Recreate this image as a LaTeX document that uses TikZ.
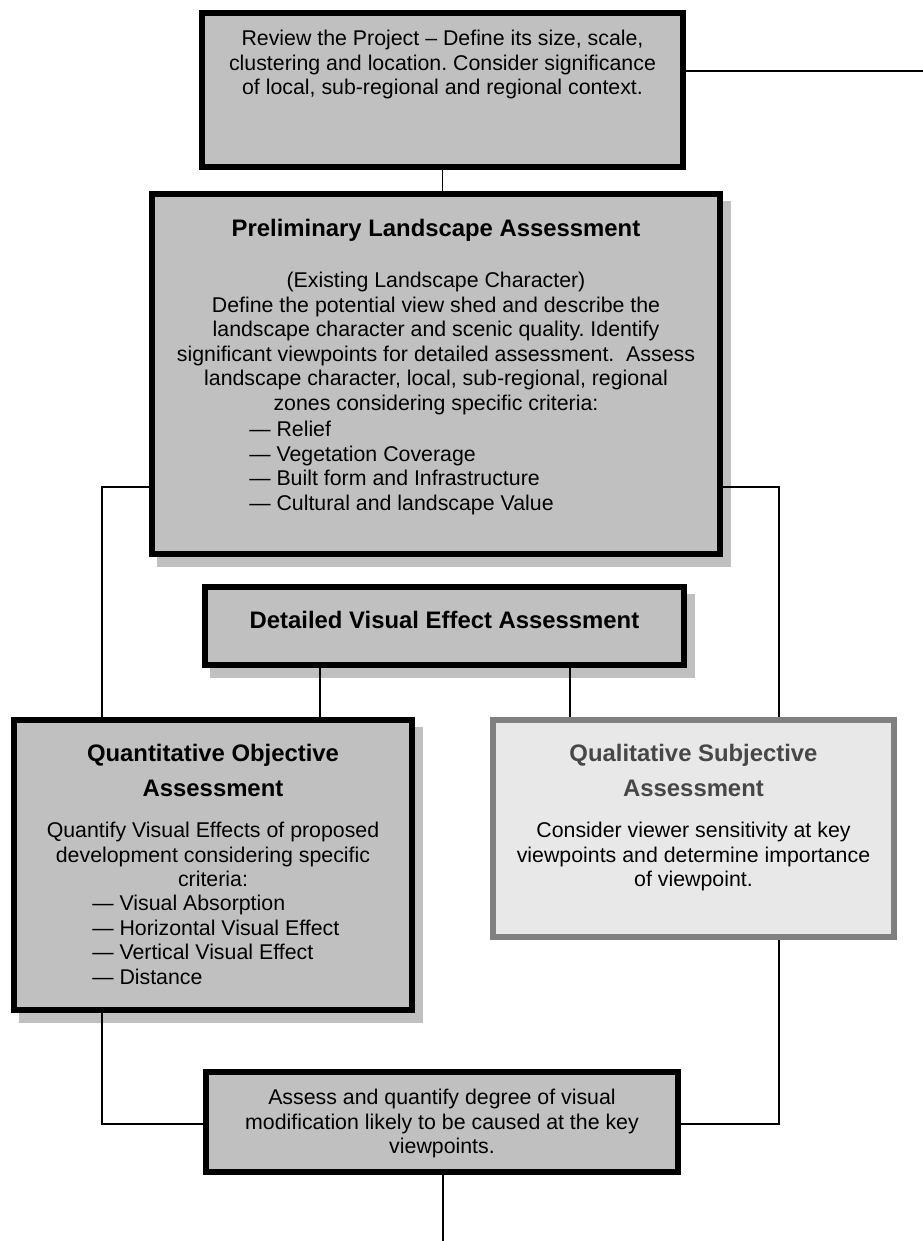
\documentclass[tikz,border=0pt]{standalone}
\usepackage{fontspec}
\setmainfont{Liberation Sans}
\usetikzlibrary{backgrounds}
\frenchspacing
\definecolor{silver}{HTML}{C0C0C0}
\definecolor{shade}{HTML}{C0C0C0}
\definecolor{lightbox}{HTML}{E8E8E8}
\definecolor{greyline}{HTML}{808080}
\definecolor{greytitle}{HTML}{474747}
\tikzset{
  box/.style={draw=black, line width=4.5pt, fill=silver, inner sep=0pt, rectangle},
  softbox/.style={draw=greyline, line width=4.5pt, fill=lightbox, inner sep=0pt, rectangle},
  conn/.style={draw=black, line width=1.2pt},
  bodytext/.style={inner sep=0pt, align=center, font=\frenchspacing\fontsize{16}{18.375}\selectfont},
  listtext/.style={inner sep=0pt, align=left, font=\frenchspacing\fontsize{16}{18.375}\selectfont},
  titletext/.style={inner sep=0pt, align=center, font=\fontsize{17.9}{26.25}\selectfont\bfseries},
  shadowfill/.style={fill=shade}
}
\begin{document}
\begin{tikzpicture}[x=0.75pt, y=-0.75pt]
\useasboundingbox (0,0) rectangle (923,1241);
% boxes
\node[box, minimum width=360.75pt, minimum height=115.5pt] (b1) at (442.5,90) {};
\node[box, minimum width=426pt, minimum height=270pt] (b2) at (436,374) {};
\node[box, minimum width=359.25pt, minimum height=58.5pt] (b3) at (444.5,626) {};
\node[box, minimum width=298.5pt, minimum height=217.5pt] (b4) at (213,865) {};
\node[softbox, minimum width=300.75pt, minimum height=162.75pt] (b5) at (693.5,828.5) {};
\node[box, minimum width=354pt, minimum height=75pt] (b6) at (442,1122) {};
% shadows
\begin{scope}[on background layer]
  \fill[shadowfill] ([shift={(8,10)}]b2.north west) rectangle ([shift={(8,10)}]b2.south east);
  \fill[shadowfill] ([shift={(8,10)}]b3.north west) rectangle ([shift={(8,10)}]b3.south east);
  \fill[shadowfill] ([shift={(8,10)}]b4.north west) rectangle ([shift={(8,10)}]b4.south east);
\end{scope}
% texts
\node[bodytext, anchor=north] (t1) at (442.5,30) {Review the Project – Define its size, scale,\\clustering and location. Consider significance\\of local, sub-regional and regional context.};
\node[titletext, anchor=base] (t2a) at (436,236.5) {Preliminary Landscape Assessment};
\node[bodytext, anchor=north] (t2b) at (436,272) {(Existing Landscape Character)\\Define the potential view shed and describe the\\landscape character and scenic quality. Identify\\significant viewpoints for detailed assessment.\ \ Assess\\landscape character, local, sub-regional, regional\\zones considering specific criteria:};
\node[listtext, anchor=north west] (t2c) at (249,421) {— Relief\\— Vegetation Coverage\\— Built form and Infrastructure\\— Cultural and landscape Value};
\node[titletext, anchor=base] (t3) at (444.5,628.5) {Detailed Visual Effect Assessment};
\node[titletext, anchor=north] (t4a) at (213,744) {Quantitative Objective\\Assessment};
\node[bodytext, anchor=north] (t4b) at (213,822) {Quantify Visual Effects of proposed\\development considering specific\\criteria:};
\node[listtext, anchor=north west] (t4c) at (92,895) {— Visual Absorption\\— Horizontal Visual Effect\\— Vertical Visual Effect\\— Distance};
\node[titletext, anchor=north, text=greytitle] (t5a) at (693.5,744) {Qualitative Subjective\\Assessment};
\node[bodytext, anchor=north] (t5b) at (693.5,822) {Consider viewer sensitivity at key\\viewpoints and determine importance\\of viewpoint.};
\node[bodytext, anchor=north] (t6) at (442,1089) {Assess and quantify degree of visual\\modification likely to be caused at the key\\viewpoints.};
% connector helper coordinates
\coordinate (e1) at (923,71);
\coordinate (L1) at (102,487);
\coordinate (R1) at (779,487);
\coordinate (m3l) at (320,0);
\coordinate (m3r) at (570,0);
\coordinate (L2) at (102,1124);
\coordinate (R2) at (779,1124);
\coordinate (endpt) at (443,1241);
% connectors
\begin{scope}[on background layer]
\draw[conn] (b1.south) -- (b1.south |- b2.north);
\draw[conn] (e1 -| b1.east) -- (e1);
\draw[conn] (L1 -| b2.west) -- (L1) -- (L1 |- b4.north);
\draw[conn] (R1 -| b2.east) -- (R1) -- (R1 |- b5.north);
\draw[conn] (m3l |- b3.south) -- (m3l |- b4.north);
\draw[conn] (m3r |- b3.south) -- (m3r |- b5.north);
\draw[conn] (L2 |- b4.south) -- (L2) -- (L2 -| b6.west);
\draw[conn] (R2 |- b5.south) -- (R2) -- (R2 -| b6.east);
\draw[conn] (endpt |- b6.south) -- (endpt);
\end{scope}
\end{tikzpicture}
\end{document}
